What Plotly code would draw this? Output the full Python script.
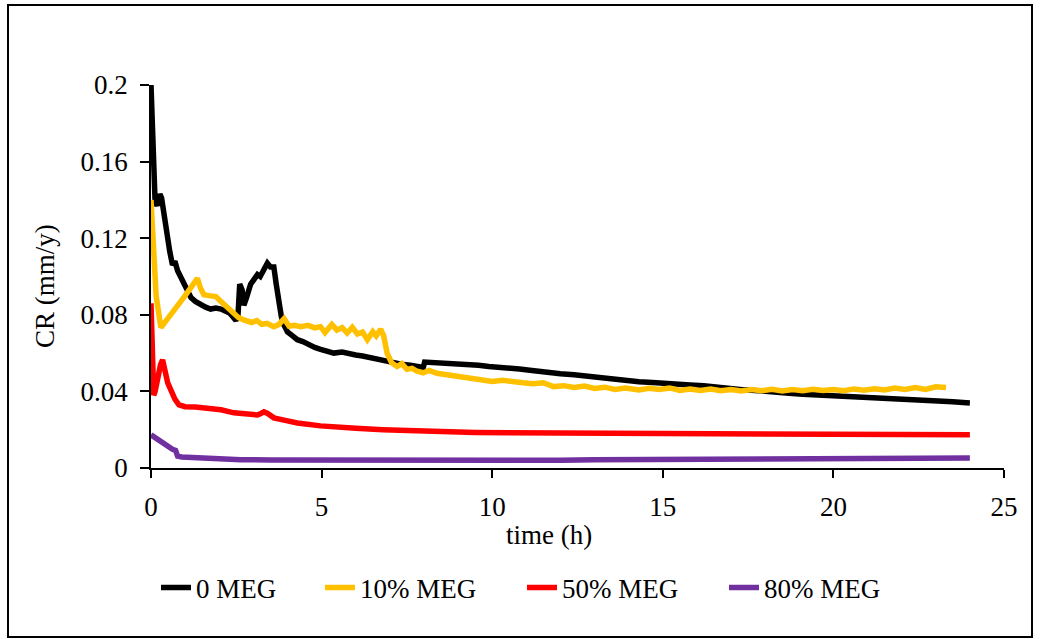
import plotly.graph_objects as go

# ---------------- data ----------------
t_0meg = [0.0, 0.05, 0.12, 0.18, 0.26, 0.31, 0.37, 0.45, 0.55, 0.63, 0.7, 0.78, 0.86, 0.93,
          1.05, 1.17, 1.3, 1.46, 1.6, 1.75, 1.9, 2.05, 2.18, 2.3, 2.4, 2.49, 2.55, 2.6, 2.67,
          2.72, 2.8, 2.92, 3.0, 3.12, 3.2, 3.3, 3.41, 3.5, 3.6, 3.67, 3.74, 3.82, 3.89, 4.0,
          4.15, 4.29, 4.45, 4.6, 4.8, 4.97, 5.2, 5.36, 5.6, 5.8, 6.0, 6.2, 6.4, 6.6, 6.8, 7.0,
          7.2, 7.4, 7.6, 7.8, 7.98, 8.02, 8.3, 8.6, 8.9, 9.26, 9.6, 9.9, 10.2, 10.5, 10.8,
          11.1, 11.4, 11.7, 12.0, 12.4, 12.8, 13.2, 13.6, 14.0, 14.3, 14.7, 15.1, 15.5, 15.8,
          16.2, 16.6, 17.0, 17.4, 17.8, 18.2, 18.7, 19.1, 19.5, 19.9, 20.3, 20.7, 21.1, 21.5,
          21.9, 22.3, 22.7, 23.1, 23.5, 23.8, 24.0]
cr_0meg = [0.200, 0.165, 0.139, 0.137, 0.143, 0.141, 0.133, 0.124, 0.113, 0.106, 0.108, 0.103,
           0.100, 0.097, 0.092, 0.089, 0.087, 0.085, 0.084, 0.083, 0.0835, 0.083, 0.082, 0.081,
           0.079, 0.077, 0.080, 0.096, 0.093, 0.085, 0.089, 0.096, 0.098, 0.101, 0.100, 0.104,
           0.107, 0.105, 0.105, 0.096, 0.087, 0.079, 0.075, 0.071, 0.069, 0.067, 0.066, 0.0645,
           0.063, 0.062, 0.061, 0.0600, 0.0605, 0.0595, 0.0590, 0.0585, 0.0577, 0.0568, 0.0562,
           0.0552, 0.0547, 0.0540, 0.0537, 0.0530, 0.0525, 0.0553, 0.0550, 0.0545, 0.0548,
           0.0540, 0.0537, 0.0530, 0.0527, 0.0520, 0.0517, 0.0510, 0.0502, 0.0499, 0.0492,
           0.0487, 0.0478, 0.0473, 0.0463, 0.0458, 0.0450, 0.0447, 0.0440, 0.0438, 0.0433,
           0.0429, 0.0420, 0.0417, 0.0408, 0.0404, 0.0395, 0.0390, 0.0385, 0.0382, 0.0378,
           0.0376, 0.0372, 0.0369, 0.0363, 0.0361, 0.0357, 0.0354, 0.0350, 0.0346, 0.0342, 0.0340]

t_10meg = [0.0, 0.05, 0.15, 0.29, 0.5, 0.75, 1.0, 1.2, 1.36, 1.45, 1.55, 1.7, 1.9, 2.05, 2.24,
           2.4, 2.57, 2.7, 2.83, 2.95, 3.1, 3.25, 3.4, 3.6, 3.75, 3.9, 4.05, 4.2, 4.39, 4.6,
           4.8, 4.97, 5.1, 5.3, 5.45, 5.6, 5.75, 5.9, 6.05, 6.2, 6.34, 6.5, 6.6, 6.73, 6.82,
           6.92, 7.05, 7.21, 7.35, 7.5, 7.65, 7.8, 7.98, 8.15, 8.38, 8.6, 8.8, 9.0, 9.26, 9.5,
           9.75, 10.0, 10.3, 10.6, 10.9, 11.2, 11.5, 11.8, 12.1, 12.4, 12.7, 13.0, 13.3, 13.6,
           13.9, 14.3, 14.6, 14.9, 15.2, 15.5, 15.8, 16.1, 16.4, 16.7, 17.0, 17.3, 17.6, 17.9,
           18.2, 18.5, 18.8, 19.1, 19.4, 19.7, 20.0, 20.3, 20.6, 20.9, 21.2, 21.5, 21.8, 22.1,
           22.4, 22.7, 23.0, 23.3]
cr_10meg = [0.140, 0.120, 0.090, 0.0733, 0.078, 0.084, 0.090, 0.095, 0.099, 0.094, 0.0905,
            0.0900, 0.0895, 0.087, 0.0838, 0.081, 0.0785, 0.0775, 0.0770, 0.0760, 0.0770,
            0.0750, 0.0755, 0.0738, 0.0750, 0.0780, 0.0740, 0.0745, 0.0738, 0.0745, 0.0732,
            0.0738, 0.0707, 0.0750, 0.0720, 0.0733, 0.0705, 0.0735, 0.0700, 0.0710, 0.0670,
            0.0712, 0.0690, 0.0725, 0.0690, 0.0600, 0.0550, 0.0530, 0.0545, 0.0515, 0.0520,
            0.0505, 0.0497, 0.0510, 0.0495, 0.0490, 0.0482, 0.0478, 0.0470, 0.0468, 0.0462,
            0.0452, 0.0458, 0.0448, 0.0445, 0.0440, 0.0445, 0.0425, 0.0430, 0.0420, 0.0428,
            0.0415, 0.0422, 0.0410, 0.0418, 0.0408, 0.0416, 0.0410, 0.0418, 0.0405, 0.0413,
            0.0405, 0.0412, 0.0403, 0.0410, 0.0402, 0.0410, 0.0403, 0.0411, 0.0402, 0.0410,
            0.0404, 0.0411, 0.0405, 0.0410, 0.0404, 0.0413, 0.0406, 0.0414, 0.0408, 0.0417,
            0.0410, 0.0420, 0.0410, 0.0424, 0.0420]

t_50meg = [0.0, 0.03, 0.08, 0.12, 0.2, 0.28, 0.34, 0.4, 0.49, 0.6, 0.7, 0.82, 1.0, 1.3, 1.66,
           2.05, 2.43, 2.8, 3.12, 3.22, 3.31, 3.42, 3.6, 3.9, 4.29, 4.97, 5.5, 6.0, 6.8, 7.5,
           8.5, 9.5, 10.5, 11.7, 13.0, 14.5, 16.0, 17.5, 19.0, 20.5, 22.0, 23.0, 24.0]
cr_50meg = [0.086, 0.050, 0.038, 0.040, 0.048, 0.054, 0.0565, 0.051, 0.0445, 0.040, 0.036,
            0.033, 0.032, 0.0318, 0.0314, 0.0304, 0.0288, 0.0280, 0.0277, 0.0285, 0.0293,
            0.0285, 0.0262, 0.0250, 0.0235, 0.0220, 0.0212, 0.0207, 0.0200, 0.0195, 0.0190,
            0.0186, 0.0184, 0.0183, 0.0180, 0.0178, 0.0176, 0.0175, 0.0174, 0.0174, 0.0174,
            0.0174, 0.0173]

t_80meg = [0.0, 0.15, 0.29, 0.45, 0.63, 0.72, 0.78, 0.9, 1.2, 1.66, 2.2, 2.63, 3.5, 5.0, 6.5,
           8.0, 9.0, 10.0, 11.0, 11.4, 12.0, 13.0, 14.5, 16.0, 18.0, 18.7, 20.0, 22.0, 24.0]
cr_80meg = [0.0173, 0.0155, 0.0136, 0.0115, 0.0098, 0.0092, 0.0062, 0.0058, 0.0055, 0.0052,
            0.0047, 0.0043, 0.0042, 0.0041, 0.0040, 0.0039, 0.0036, 0.0035, 0.0036, 0.0037,
            0.0040, 0.0043, 0.0045, 0.0047, 0.0049, 0.0050, 0.0051, 0.0052, 0.0052]

series_names = ["0 MEG", "10% MEG", "50% MEG", "80% MEG"]
y_tick_vals = [0, 0.04, 0.08, 0.12, 0.16, 0.2]
y_tick_text = ["0", "0.04", "0.08", "0.12", "0.16", "0.2"]
x_tick_vals = [0, 5, 10, 15, 20, 25]

# ---------------- figure ----------------
FONT = "Liberation Serif, Times New Roman, serif"
colors = ["#000000", "#FFC000", "#FF0000", "#7030A0"]
xs = [t_0meg, t_10meg, t_50meg, t_80meg]
ys = [cr_0meg, cr_10meg, cr_50meg, cr_80meg]
legend_ids = ["legend", "legend2", "legend3", "legend4"]

fig = go.Figure()
for name, x, y, c, lg in zip(series_names, xs, ys, colors, legend_ids):
    fig.add_trace(go.Scatter(x=x, y=y, mode="lines", name=name,
                             line=dict(color=c, width=5.5), legend=lg))

W, H = 1043, 639
L, R, T, B = 151, 39, 85, 171
pw, ph = W - L - R, H - T - B

def px_x(p):
    return (p - L) / pw

def px_y(p):
    return (H - B - p) / ph

leg_common = dict(orientation="h", yanchor="middle", xanchor="left",
                  font=dict(family=FONT, size=27, color="#000000"),
                  bgcolor="rgba(0,0,0,0)", borderwidth=0)
legend_x_px = [156, 320, 522, 724]
layout_legends = {}
for lg, xp in zip(legend_ids, legend_x_px):
    layout_legends[lg] = dict(leg_common, x=px_x(xp), y=px_y(588))

fig.update_layout(
    width=W, height=H,
    margin=dict(l=L, r=R, t=T, b=B),
    paper_bgcolor="white", plot_bgcolor="white",
    font=dict(family=FONT, size=27, color="#000000"),
    showlegend=True,
    **layout_legends,
    xaxis=dict(range=[0, 25], tickvals=x_tick_vals, showgrid=False, zeroline=False,
               showline=True, linecolor="#000000", linewidth=1.5,
               ticks="outside", ticklen=8, tickwidth=1.5, tickcolor="#000000",
               tickfont=dict(family=FONT, size=27), ticklabelstandoff=6),
    yaxis=dict(range=[0, 0.2], tickvals=y_tick_vals, ticktext=y_tick_text,
               showgrid=False, zeroline=False,
               showline=True, linecolor="#000000", linewidth=1.5,
               ticks="outside", ticklen=9, tickwidth=1.5, tickcolor="#000000",
               tickfont=dict(family=FONT, size=27), ticklabelstandoff=7),
    annotations=[
        dict(text="time (h)", xref="paper", yref="paper", x=px_x(549), y=px_y(535),
             xanchor="center", yanchor="middle",
             showarrow=False, font=dict(family=FONT, size=27)),
        dict(text="CR (mm/y)", xref="paper", yref="paper", x=px_x(45), y=px_y(286),
             xanchor="center", yanchor="middle",
             textangle=-90, showarrow=False, font=dict(family=FONT, size=27)),
    ],
    shapes=[
        dict(type="rect", xref="paper", yref="paper",
             x0=px_x(8), x1=px_x(1032), y0=px_y(637), y1=px_y(5),
             line=dict(color="#000000", width=2), fillcolor="rgba(0,0,0,0)", layer="below"),
    ],
)

fig.write_html("out.html")
